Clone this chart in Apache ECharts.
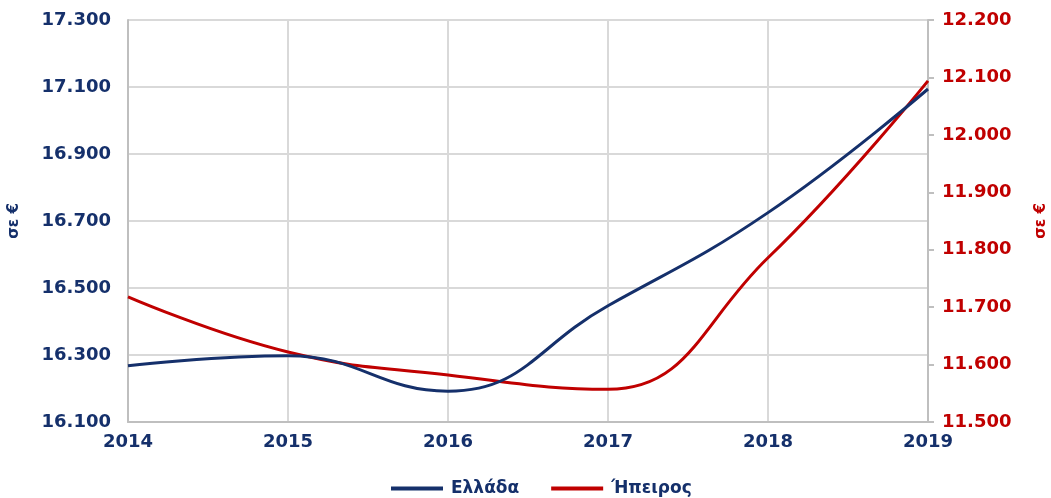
<!DOCTYPE html>
<html><head><meta charset="utf-8">
<script src="https://cdn.jsdelivr.net/npm/echarts@6/dist/echarts.min.js"></script>
<style>html,body{margin:0;padding:0;background:#fff}#c{width:1051px;height:498px}</style>
</head><body><div id="c"></div>
<script>
const years = ['2014','2015','2016','2017','2018','2019'];
const greece = [16268, 16298, 16192, 16447, 16725, 17094];
const epirus = [11718, 11622, 11582, 11557, 11786, 12094];
const leftTicks = {min: 16100, max: 17300, interval: 200};
const rightTicks = {min: 11500, max: 12200, interval: 100};
const navy = '#15306b', red = '#c00000', grid = '#d9d9d9';
const fmt = v => (v/1000).toFixed(3);
const font = 'Verdana, "DejaVu Sans", sans-serif';
const chart = echarts.init(document.getElementById('c'));
chart.setOption({
  animation: false,
  grid: {left: 128, right: 123, top: 20, bottom: 76, outerBoundsMode: 'none', containLabel: false},
  legend: {
    top: 475, left: 386, itemWidth: 52, itemHeight: 4, itemGap: 32,
    icon: 'rect',
    textStyle: {fontFamily: font, fontWeight: 'bold', fontSize: 17, color: navy, padding: [0, 0, 0, 3]},
    data: [{name: 'Ελλάδα'}, {name: 'Ήπειρος'}]
  },
  xAxis: {
    type: 'category', data: years, boundaryGap: false,
    axisLine: {lineStyle: {color: '#bfbfbf', width: 2}},
    axisTick: {show: false},
    axisLabel: {fontFamily: font, fontWeight: 'bold', fontSize: 18, color: navy, margin: 11},
    splitLine: {show: true, lineStyle: {color: grid, width: 2}}
  },
  yAxis: [{
    type: 'value', position: 'left', min: leftTicks.min, max: leftTicks.max, interval: leftTicks.interval,
    name: 'σε €', nameLocation: 'middle', nameGap: 106, nameRotate: 90,
    nameTextStyle: {fontFamily: font, fontWeight: 'bold', fontSize: 15, color: navy},
    axisLine: {show: true, lineStyle: {color: '#bfbfbf', width: 2}},
    axisTick: {show: false},
    axisLabel: {formatter: fmt, fontFamily: font, fontWeight: 'bold', fontSize: 18, color: navy, margin: 17},
    splitLine: {show: true, lineStyle: {color: grid, width: 2}}
  }, {
    type: 'value', position: 'right', min: rightTicks.min, max: rightTicks.max, interval: rightTicks.interval,
    name: 'σε €', nameLocation: 'middle', nameGap: 106, nameRotate: 90,
    nameTextStyle: {fontFamily: font, fontWeight: 'bold', fontSize: 15, color: red},
    axisLine: {show: true, lineStyle: {color: '#bfbfbf', width: 2}},
    axisTick: {show: true, length: 6, lineStyle: {color: '#bfbfbf', width: 2}},
    axisLabel: {formatter: fmt, fontFamily: font, fontWeight: 'bold', fontSize: 18, color: red, margin: 14},
    splitLine: {show: false}
  }],
  series: [{
    name: 'Ελλάδα', type: 'line', yAxisIndex: 0, data: greece, smooth: 0.45,
    showSymbol: false, symbol: 'none', lineStyle: {color: navy, width: 3}, itemStyle: {color: navy}, z: 3
  }, {
    name: 'Ήπειρος', type: 'line', yAxisIndex: 1, data: epirus, smooth: 0.45,
    showSymbol: false, symbol: 'none', lineStyle: {color: red, width: 3}, itemStyle: {color: red}, z: 2
  }]
});
</script></body></html>
